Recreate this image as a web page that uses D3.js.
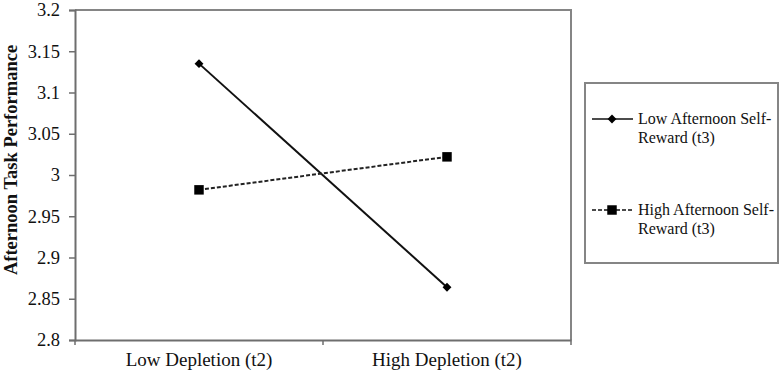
<!DOCTYPE html>
<html>
<head>
<meta charset="utf-8">
<script src="https://cdn.jsdelivr.net/npm/d3@7"></script>
<style>
  body { margin: 0; background: #fff; }
</style>
</head>
<body>
<div id="chart"></div>
<script>
// categories and series
const categories = ["Low Depletion (t2)", "High Depletion (t2)"];
const lowReward = [3.135, 2.864];
const highReward = [2.982, 3.022];
const seriesNames = [["Low Afternoon Self-", "Reward (t3)"], ["High Afternoon Self-", "Reward (t3)"]];
const yTicks = [2.8, 2.85, 2.9, 2.95, 3, 3.05, 3.1, 3.15, 3.2];

const FONT = "font-family:'Liberation Serif','Times New Roman',serif";

const W = 781, H = 375;
const margin = {top: 10, right: 210, bottom: 35, left: 75};
const width = W - margin.left - margin.right,
      height = H - margin.top - margin.bottom;

const svg = d3.select("#chart").append("svg")
    .attr("width", W)
    .attr("height", H)
    .attr("font-family", "'Liberation Serif', serif");

const g = svg.append("g")
    .attr("transform", `translate(${margin.left},${margin.top})`);

const x = d3.scaleBand().domain(categories).range([0, width]);
const y = d3.scaleLinear().domain([2.8, 3.2]).range([height, 0]);

// plot frame (top + right)
g.append("path")
    .attr("d", `M0,0 H${width} V${height}`)
    .attr("fill", "none")
    .attr("stroke", "#858585")
    .attr("stroke-width", 2);

// y axis
const yAxis = g.append("g")
    .call(d3.axisLeft(y).tickValues(yTicks).tickSize(6).tickPadding(9)
        .tickFormat(d => String(+d.toFixed(2))));
yAxis.attr("font-family", null);
yAxis.select(".domain").attr("stroke", "#6e6e6e").attr("stroke-width", 2);
yAxis.selectAll(".tick line").attr("stroke", "#6e6e6e").attr("stroke-width", 1.5);
yAxis.selectAll("text").attr("font-size", 18.5).attr("fill", "#111")
    .attr("style", FONT);

// x axis, ticks at category boundaries
const xAxis = g.append("g")
    .attr("transform", `translate(0,${height})`)
    .call(d3.axisBottom(x).tickSize(0).tickPadding(13));
xAxis.attr("font-family", null);
xAxis.select(".domain").attr("stroke", "#6e6e6e").attr("stroke-width", 2);
xAxis.selectAll("text").attr("font-size", 19).attr("fill", "#111")
    .attr("style", FONT);
xAxis.selectAll(".bound")
    .data([0, width / 2, width])
    .enter().append("line")
    .attr("class", "bound")
    .attr("x1", d => d).attr("x2", d => d)
    .attr("y1", 0).attr("y2", 5)
    .attr("stroke", "#6e6e6e")
    .attr("stroke-width", 1.5);

// y title
svg.append("text")
    .attr("transform", `translate(17,160) rotate(-90)`)
    .attr("text-anchor", "middle")
    .attr("font-size", 18.5)
    .attr("font-weight", "bold")
    .attr("fill", "#111")
    .attr("style", FONT)
    .text("Afternoon Task Performance");

const line = d3.line()
    .x((d, i) => x(categories[i]) + x.bandwidth() / 2)
    .y(d => y(d));

// low self-reward: solid with diamonds
g.append("path")
    .datum(lowReward)
    .attr("d", line)
    .attr("fill", "none")
    .attr("stroke", "#111")
    .attr("stroke-width", 2);

g.selectAll(".diamond")
    .data(lowReward)
    .enter().append("path")
    .attr("class", "diamond")
    .attr("d", d3.symbol().type(d3.symbolDiamond2).size(50))
    .attr("transform", (d, i) => `translate(${x(categories[i]) + x.bandwidth() / 2},${y(d)})`)
    .attr("fill", "#000");

// high self-reward: dashed with squares
g.append("path")
    .datum(highReward)
    .attr("d", line)
    .attr("fill", "none")
    .attr("stroke", "#222")
    .attr("stroke-width", 2)
    .attr("stroke-dasharray", "4,2");

g.selectAll(".square")
    .data(highReward)
    .enter().append("path")
    .attr("class", "square")
    .attr("d", d3.symbol().type(d3.symbolSquare).size(90))
    .attr("transform", (d, i) => `translate(${x(categories[i]) + x.bandwidth() / 2},${y(d)})`)
    .attr("fill", "#000");

// legend
const legend = svg.append("g");
legend.append("rect")
    .attr("x", 585).attr("y", 83)
    .attr("width", 193).attr("height", 180)
    .attr("fill", "#fff")
    .attr("stroke", "#858585")
    .attr("stroke-width", 2);

const legendRows = [
  {y: 119, dash: null, sym: d3.symbolDiamond2, size: 50},
  {y: 210, dash: "4,2", sym: d3.symbolSquare, size: 90}
];
legendRows.forEach((r, i) => {
  legend.append("line")
      .attr("x1", 592).attr("x2", 633)
      .attr("y1", r.y).attr("y2", r.y)
      .attr("stroke", "#111")
      .attr("stroke-width", 1.5)
      .attr("stroke-dasharray", r.dash);
  legend.append("path")
      .attr("d", d3.symbol().type(r.sym).size(r.size))
      .attr("transform", `translate(612,${r.y})`)
      .attr("fill", "#000");
  const t = legend.append("text")
      .attr("x", 638).attr("y", r.y + 5)
      .attr("font-size", 16)
      .attr("fill", "#111")
      .attr("style", FONT);
  seriesNames[i].forEach((s, j) => {
    t.append("tspan").attr("x", 638).attr("dy", j === 0 ? 0 : 18.5).text(s);
  });
});
</script>
</body>
</html>
